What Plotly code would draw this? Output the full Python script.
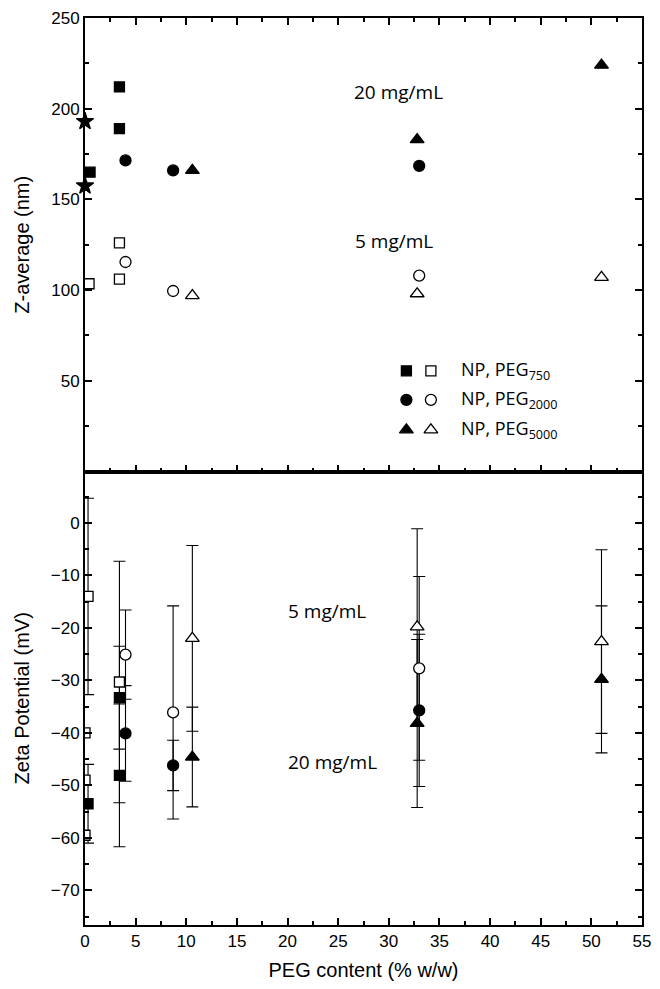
import plotly.graph_objects as go

# ---------------- data ----------------
# Top panel: Z-average (nm)
bare_x = [0, 0]
bare_z = [193, 157.5]

peg750_x20 = [0.5, 3.4, 3.4]
peg750_z20 = [165, 212, 189]
peg750_x5 = [0.4, 3.4, 3.4]
peg750_z5 = [103.5, 126, 106]

peg2000_x = [4.0, 8.7, 33.0]
peg2000_z20 = [171.5, 166, 168.5]
peg2000_z5 = [115.5, 99.5, 108]

peg5000_x = [10.6, 32.8, 51.0]
peg5000_z20 = [166, 183, 224]
peg5000_z5 = [97, 98, 107]

# Bottom panel: Zeta potential (mV) with error
z750_x20 = [0.3, 3.4, 3.4]
z750_v20 = [-53.5, -33.3, -48.1]
z750_e20 = [7.5, 9.8, 13.6]
z750_x5 = [0.3, 3.4]
z750_v5 = [-14.0, -30.3]
z750_e5 = [18.7, 23.0]
z0_x = [0, 0, 0]
z0_v = [-40, -49, -59.5]

z2000_x = [4.0, 8.7, 33.0]
z2000_v20 = [-40.1, -46.2, -35.7]
z2000_e20 = [9.1, 4.8, 14.5]
z2000_v5 = [-25.1, -36.1, -27.7]
z2000_e5 = [8.5, 20.3, 17.5]

z5000_x = [10.6, 32.8, 51.0]
z5000_v20 = [-44.6, -38.2, -29.8]
z5000_e20 = [9.5, 16.0, 14.0]
z5000_v5 = [-22.0, -19.8, -22.6]
z5000_e5 = [17.7, 18.7, 17.5]

legend_labels = ["NP, PEG<sub>750</sub>", "NP, PEG<sub>2000</sub>", "NP, PEG<sub>5000</sub>"]
legend_symbols = ["square", "circle", "triangle-up"]

# ---------------- styles ----------------
BLACK = "black"
SIZES = {"square": 10, "circle": 11, "triangle-up": 12, "star": 13}


def mk(symbol, filled):
    return dict(symbol=symbol, size=SIZES[symbol],
                color=BLACK if filled else "white",
                line=dict(color=BLACK, width=1.3))


fig = go.Figure()

# ---- top panel ----
fig.add_trace(go.Scatter(x=bare_x, y=bare_z, mode="markers", marker=mk("star", True),
                         xaxis="x2", yaxis="y2", cliponaxis=False))
top_series = [
    (peg750_x20, peg750_z20, "square", True),
    (peg750_x5, peg750_z5, "square", False),
    (peg2000_x, peg2000_z20, "circle", True),
    (peg2000_x, peg2000_z5, "circle", False),
    (peg5000_x, peg5000_z20, "triangle-up", True),
    (peg5000_x, peg5000_z5, "triangle-up", False),
]
for xs, ys, sym, filled in top_series:
    fig.add_trace(go.Scatter(x=xs, y=ys, mode="markers", marker=mk(sym, filled),
                             xaxis="x2", yaxis="y2", cliponaxis=False))

# ---- bottom panel ----
bottom_series = [
    (z750_x20, z750_v20, z750_e20, "square", True),
    (z750_x5, z750_v5, z750_e5, "square", False),
    (z2000_x, z2000_v20, z2000_e20, "circle", True),
    (z2000_x, z2000_v5, z2000_e5, "circle", False),
    (z5000_x, z5000_v20, z5000_e20, "triangle-up", True),
    (z5000_x, z5000_v5, z5000_e5, "triangle-up", False),
]
# error bars first (behind all markers)
for xs, ys, es, sym, filled in bottom_series:
    fig.add_trace(go.Scatter(x=xs, y=ys, mode="markers",
                             marker=dict(size=1, color="rgba(0,0,0,0)"),
                             error_y=dict(type="data", array=es, visible=True,
                                          color=BLACK, thickness=1.1, width=6),
                             xaxis="x", yaxis="y"))
fig.add_trace(go.Scatter(x=z0_x, y=z0_v, mode="markers", marker=mk("square", False),
                         xaxis="x", yaxis="y"))
for xs, ys, es, sym, filled in bottom_series:
    fig.add_trace(go.Scatter(x=xs, y=ys, mode="markers", marker=mk(sym, filled),
                             xaxis="x", yaxis="y"))

# ---- legend (drawn on an overlay axis in plot-fraction units) ----
LEG_X_FILLED = 0.577
LEG_X_OPEN = 0.621
LEG_X_TEXT = 0.672
LEG_Y = [0.611, 0.579, 0.546]
for sym, yv in zip(legend_symbols, LEG_Y):
    fig.add_trace(go.Scatter(x=[LEG_X_FILLED], y=[yv], mode="markers", marker=mk(sym, True),
                             xaxis="x3", yaxis="y3", cliponaxis=False))
    fig.add_trace(go.Scatter(x=[LEG_X_OPEN], y=[yv], mode="markers", marker=mk(sym, False),
                             xaxis="x3", yaxis="y3", cliponaxis=False))

annots = []
for lab, yv in zip(legend_labels, LEG_Y):
    annots.append(dict(x=LEG_X_TEXT, y=yv, xref="paper", yref="paper", text=lab,
                       showarrow=False, xanchor="left", yanchor="middle",
                       font=dict(family="Open Sans", size=18, color=BLACK)))

ann_font = dict(family="Open Sans", size=19, color=BLACK)
annots += [
    dict(x=31.0, y=209, xref="x2", yref="y2", text="20 mg/mL", showarrow=False, font=ann_font),
    dict(x=30.5, y=127, xref="x2", yref="y2", text="5 mg/mL", showarrow=False, font=ann_font),
    dict(x=19.8, y=-16.8, xref="x", yref="y", text="5 mg/mL", showarrow=False,
         xanchor="left", font=ann_font),
    dict(x=19.8, y=-45.5, xref="x", yref="y", text="20 mg/mL", showarrow=False,
         xanchor="left", font=ann_font),
]

tick_font = dict(family="Liberation Sans, Arial", size=17, color=BLACK)
title_font = dict(family="Liberation Sans, Arial", size=20, color=BLACK)

common_x = dict(range=[0, 55], tick0=0, dtick=5, ticks="inside", ticklen=7, tickwidth=2,
                tickcolor=BLACK, showline=True, linewidth=2, linecolor=BLACK,
                showgrid=False, zeroline=False,
                minor=dict(dtick=2.5, tick0=0, ticks="inside", ticklen=4, tickwidth=2,
                           tickcolor=BLACK, showgrid=False))
common_y = dict(ticks="inside", ticklen=7, tickwidth=2, tickcolor=BLACK, showline=True,
                linewidth=2, linecolor=BLACK, mirror="ticks", showgrid=False, zeroline=False,
                tickfont=tick_font, title_font=title_font)

fig.update_layout(
    width=660, height=989,
    margin=dict(l=85, r=9, t=16, b=64),
    paper_bgcolor="white", plot_bgcolor="rgba(0,0,0,0)",
    showlegend=False,
    annotations=annots,
    xaxis=dict(**common_x, domain=[0, 1], anchor="y", mirror=True, tickfont=tick_font,
               title=dict(text="PEG content (% w/w)", font=title_font, standoff=13)),
    yaxis=dict(**common_y, domain=[0, 0.5], anchor="x", range=[-76.6, 9.8], tick0=0, dtick=10,
               minor=dict(dtick=5, tick0=0, ticks="inside", ticklen=4, tickwidth=2,
                          tickcolor=BLACK, showgrid=False),
               title=dict(text="Zeta Potential (mV)", font=title_font, standoff=16)),
    xaxis2=dict(**common_x, domain=[0, 1], anchor="y2", mirror="ticks", showticklabels=False,
                matches="x"),
    yaxis2=dict(**common_y, domain=[0.5, 1], anchor="x2", range=[0, 250],
                tickvals=[50, 100, 150, 200, 250],
                minor=dict(tickvals=[25, 75, 125, 175, 225], ticks="inside", ticklen=4,
                           tickwidth=2, tickcolor=BLACK, showgrid=False),
                title=dict(text="Z-average (nm)", font=title_font, standoff=16)),
    xaxis3=dict(domain=[0, 1], range=[0, 1], anchor="y3", visible=False, fixedrange=True),
    yaxis3=dict(domain=[0, 1], range=[0, 1], anchor="x3", visible=False, fixedrange=True),
)

fig.write_html("out.html")
